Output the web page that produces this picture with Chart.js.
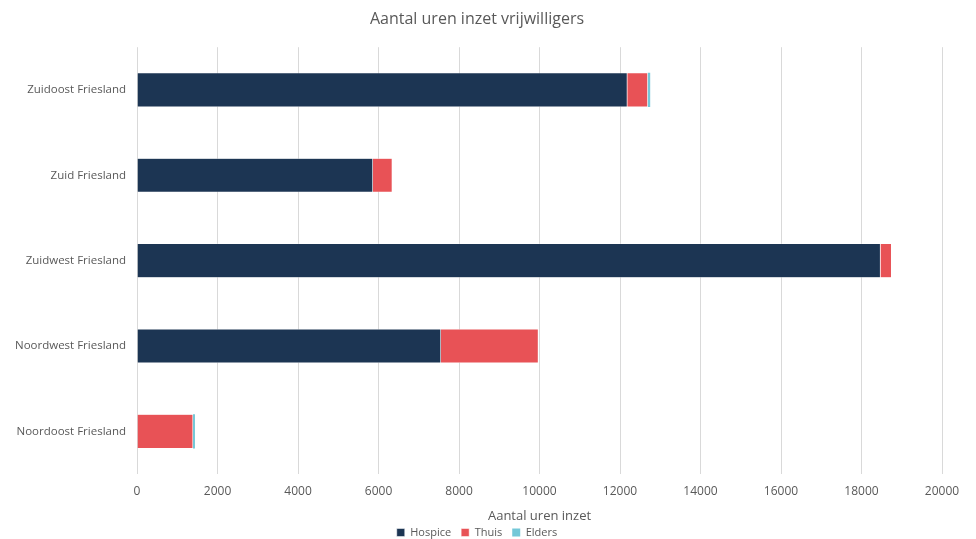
<!DOCTYPE html>
<html>
<head>
<meta charset="utf-8">
<script src="https://cdn.jsdelivr.net/npm/chart.js@4/dist/chart.umd.min.js"></script>
<style>
  html, body { margin: 0; padding: 0; background: #fff; }
  #wrap { width: 976px; height: 539px; position: relative; }
</style>
</head>
<body>
<div id="wrap"><canvas id="urenChart"></canvas></div>
<script>
const regions = ['Zuidoost Friesland', 'Zuid Friesland', 'Zuidwest Friesland', 'Noordwest Friesland', 'Noordoost Friesland'];
const hospice = [12180, 5860, 18470, 7550, 0];
const thuis = [510, 480, 275, 2420, 1390];
const elders = [60, 0, 0, 0, 50];

const font = "'Open Sans', 'Noto Sans', sans-serif";
Chart.defaults.font.family = font;
Chart.defaults.color = '#595959';

const ctx = document.getElementById('urenChart').getContext('2d');
new Chart(ctx, {
    type: 'bar',
    data: {
        labels: regions,
        datasets: [
            { label: 'Hospice', data: hospice, backgroundColor: '#1c3553', borderColor: '#ffffff', borderWidth: 0.5 },
            { label: 'Thuis', data: thuis, backgroundColor: '#e85256', borderColor: '#ffffff', borderWidth: 0.5 },
            { label: 'Elders', data: elders, backgroundColor: '#74c8d8', borderColor: '#ffffff', borderWidth: 0 }
        ]
    },
    options: {
        indexAxis: 'y',
        responsive: true,
        maintainAspectRatio: false,
        animation: false,
        layout: { padding: { left: 12, right: 34, top: 4, bottom: -9 } },
        datasets: { bar: { barPercentage: 0.4, categoryPercentage: 1 } },
        plugins: {
            title: {
                display: true,
                text: 'Aantal uren inzet vrijwilligers',
                font: { size: 16, weight: 'normal' },
                color: '#595959',
                padding: { top: 6, bottom: 18 }
            },
            legend: {
                display: true,
                position: 'bottom',
                labels: { boxWidth: 8, boxHeight: 8, font: { size: 11 }, padding: 10 }
            },
            tooltip: { enabled: false }
        },
        scales: {
            x: {
                stacked: true,
                min: 0,
                max: 20000,
                ticks: {
                    stepSize: 2000,
                    font: { size: 12 },
                    padding: 10,
                    callback: value => String(value)
                },
                grid: { color: '#d9d9d9', drawTicks: false },
                border: { display: false },
                title: { display: true, text: 'Aantal uren inzet', font: { size: 13 }, padding: { top: 0, bottom: -7 } }
            },
            y: {
                stacked: true,
                ticks: { font: { size: 11.5 }, padding: 3 },
                grid: { display: false },
                border: { display: false }
            }
        }
    }
});
</script>
</body>
</html>
